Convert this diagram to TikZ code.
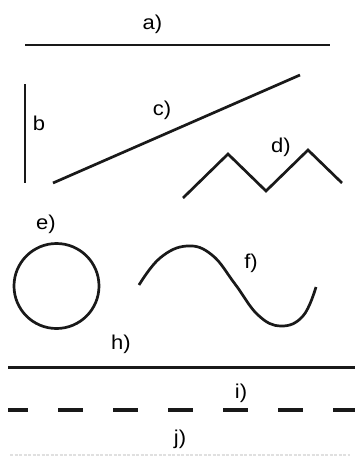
\documentclass[tikz,border=0pt]{standalone}
\usepackage{fontspec}
\setmainfont{Liberation Sans}
\newfontfamily\lblfont[FakeStretch=1.1]{Liberation Sans}
\begin{document}
\begin{tikzpicture}[x=1pt,y=-1pt,
  lbl/.style={font=\lblfont\fontsize{20}{20}\selectfont, inner sep=0pt},
  stroke/.style={line width=2.7pt, black!90, line join=miter},
  faint/.style={line width=2pt, black!12, dash pattern=on 3pt off 1.5pt}]
\fill[white] (0,0) rectangle (355,458);
\useasboundingbox (0,0) rectangle (355,458);
% labels
\node[lbl] (la) at (152.5,24) {a)};
\node[lbl] (lb) at (39,123) {b};
\node[lbl] (lc) at (162,110) {c)};
\node[lbl] (ld) at (281,147) {d)};
\node[lbl] (le) at (46,224) {e)};
\node[lbl] (lf) at (251,263) {f)};
\node[lbl] (lh) at (121,344) {h)};
\node[lbl] (li) at (241,393) {i)};
\node[lbl] (lj) at (180,439) {j)};
% a
\draw[stroke] (25,45) -- (330,45);
% b
\draw[stroke] (25,84) -- (25,183);
% c
\draw[stroke] (53,183) -- (300,75);
% d
\draw[stroke] (183,198) -- (228,154) -- (266,191) -- (308,150) -- (342,183);
% e
\draw[stroke] (56.5,286) circle (42.5);
% f
\draw[stroke] plot[smooth, tension=0.7] coordinates {(139,285) (160,258) (187,246) (212,255) (235,284) (258,315) (281,326) (303,316) (316,287)};
% h
\draw[line width=3pt, black!90] (8,367) -- (355,367);
% i
\draw[line width=3.5pt, black!90, dash pattern=on 25pt off 30pt, dash phase=5pt] (8,410) -- (355,410);
% j (faint)
\draw[faint] (10,455) -- (350,455);
\end{tikzpicture}
\end{document}
